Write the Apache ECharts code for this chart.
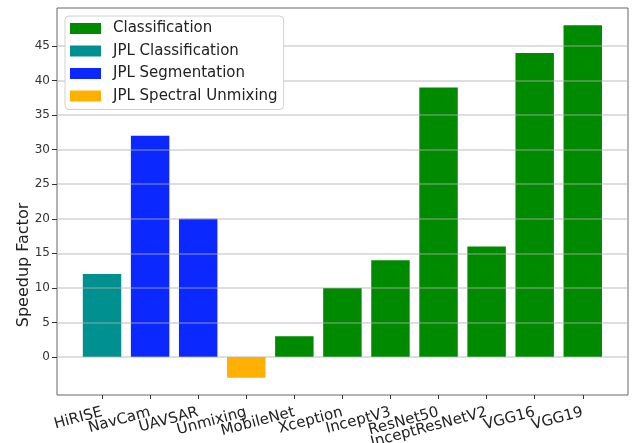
<!DOCTYPE html>
<html>
<head>
<meta charset="utf-8">
<script src="https://cdn.jsdelivr.net/npm/echarts@6/dist/echarts.min.js"></script>
<style>html,body{margin:0;padding:0;background:#fff}#c{width:633px;height:443px}</style>
</head>
<body>
<div id="c"></div>
<script>
// ---- data ----
const categories = ['HiRISE','NavCam','UAVSAR','Unmixing','MobileNet','Xception','InceptV3','ResNet50','InceptResNetV2','VGG16','VGG19'];
const speedup    = [12, 32, 20, -3, 3, 10, 14, 39, 16, 44, 48];
const groups     = ['JPL Classification','JPL Segmentation','JPL Segmentation','JPL Spectral Unmixing','Classification','Classification','Classification','Classification','Classification','Classification','Classification'];
const legendOrder = ['Classification','JPL Classification','JPL Segmentation','JPL Spectral Unmixing'];
const groupColors = ['#008a00','#009090','#0a28ff','#ffb000'];
const yTicks = [0,5,10,15,20,25,30,35,40,45];
const yLabel = 'Speedup Factor';

const font = 'DejaVu Sans';
const yMin = -5.5, yMax = 50.5;

const series = legendOrder.map((g,gi)=>({
  name: g,
  type: 'bar',
  xAxisIndex: 1, yAxisIndex: 1,
  barWidth: '80%',
  barGap: '-100%',
  itemStyle: {color: groupColors[gi]},
  data: speedup.map((v,i)=>groups[i]===g ? v : '-')
}));

const chart = echarts.init(document.getElementById('c'), null, {renderer:'canvas'});
chart.setOption({
  animation: false,
  backgroundColor: '#ffffff',
  grid: [
    {left: 57, right: 5, top: 8, bottom: 48, outerBoundsMode: 'none', containLabel: false,
     show: true, borderColor: '#666', borderWidth: 1, backgroundColor: 'transparent'},
    {left: 78, right: 26.2, top: 8, bottom: 48, outerBoundsMode: 'none', containLabel: false}
  ],
  legend: {
    orient: 'vertical', left: 65, top: 16,
    data: legendOrder,
    itemWidth: 31, itemHeight: 11, itemGap: 7.5,
    padding: [5, 6, 6, 5],
    backgroundColor: '#fff', borderColor: '#d0d0d0', borderWidth: 1, borderRadius: 4,
    icon: 'rect',
    textStyle: {fontFamily: font, fontSize: 15, color: '#222', padding: [0,0,0,7]}
  },
  xAxis: [
    {gridIndex: 0, type: 'value', min: 0, max: 1, show: false},
    {gridIndex: 1, type: 'category', data: categories,
     axisLine: {show: false, onZero: false},
     splitLine: {show: false},
     axisTick: {show: true, length: 4, alignWithLabel: true, interval: 0, lineStyle: {color: '#333'}},
     axisLabel: {interval: 0, rotate: 15, margin: 17, hideOverlap: false,
       fontFamily: font, fontSize: 15, color: '#222'}}
  ],
  yAxis: [
    {gridIndex: 0, type: 'value', min: yMin, max: yMax, z: 3,
     axisLine: {show: false, onZero: false},
     axisTick: {show: true, length: 5, customValues: yTicks, lineStyle: {color: '#333'}},
     axisLabel: {customValues: yTicks, margin: 7, fontFamily: font, fontSize: 12, color: '#333'},
     splitLine: {show: true, lineStyle: {color: 'rgba(176,176,176,0.55)', width: 1.5}}},
    {gridIndex: 1, type: 'value', min: yMin, max: yMax, show: false, splitLine: {show: false}}
  ],
  graphic: [{
    type: 'text', x: 23.5, y: 265, rotation: Math.PI/2,
    style: {text: yLabel, fontFamily: font, fontSize: 16, fill: '#222', textAlign: 'center', textVerticalAlign: 'middle'}
  }],
  series: series
});
</script>
</body>
</html>
